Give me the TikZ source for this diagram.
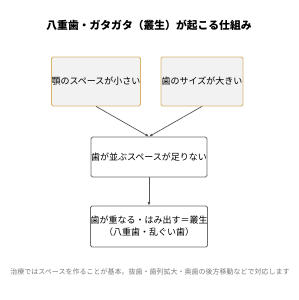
\documentclass[tikz,border=0pt]{standalone}
\usepackage{fontspec}
\newfontfamily\jp{Noto Sans CJK JP}
\usetikzlibrary{arrows.meta}
\definecolor{goldline}{HTML}{D8B56C}
\definecolor{boxfill}{HTML}{F2F2F2}
\definecolor{greyline}{HTML}{6E6E6E}
\definecolor{arrowgrey}{HTML}{555555}
\definecolor{notegrey}{HTML}{7A7A7A}
\tikzset{
  causebox/.style={draw=goldline,fill=boxfill,line width=0.8pt,rounded corners=1.5pt,
    minimum width=82pt,minimum height=49pt,inner sep=0pt,font=\jp\fontsize{9}{10}\selectfont},
  resultbox/.style={draw=greyline,fill=white,line width=0.8pt,rounded corners=1.5pt,
    minimum width=94pt,minimum height=40pt,inner sep=0pt,align=center,
    font=\jp\fontsize{9}{12}\selectfont},
  flow/.style={draw=arrowgrey,line width=0.7pt,-{Latex[length=3.5pt,width=3pt]}}
}
\begin{document}
\begin{tikzpicture}[x=1pt,y=-1pt]
  \useasboundingbox[fill=white](0,0) rectangle (298,300);
  %titolo
  \node[font=\jp\bfseries\fontsize{10.8}{12}\selectfont] (title) at (149,25) {八重歯・ガタガタ（叢生）が起こる仕組み};
  %cause
  \node[causebox] (jaw) at (96,81.5) {顎のスペースが小さい};
  \node[causebox] (size) at (202,81.5) {歯のサイズが大きい};
  %effetto
  \node[resultbox] (lack) at (149,157) {歯が並ぶスペースが足りない};
  \node[resultbox,minimum height=41pt] (crowd) at (149,226.5) {歯が重なる・はみ出す＝叢生\\（八重歯・乱ぐい歯）};
  %frecce
  \draw[flow](jaw.south)--(lack.north);
  \draw[flow](size.south)--(lack.north);
  \draw[flow](lack.south)--(crowd.north);
  %nota
  \node[text=notegrey,font=\jp\fontsize{7}{8}\selectfont] (note) at (150,272) {治療ではスペースを作ることが基本。抜歯・歯列拡大・奥歯の後方移動などで対応します};
\end{tikzpicture}
\end{document}
